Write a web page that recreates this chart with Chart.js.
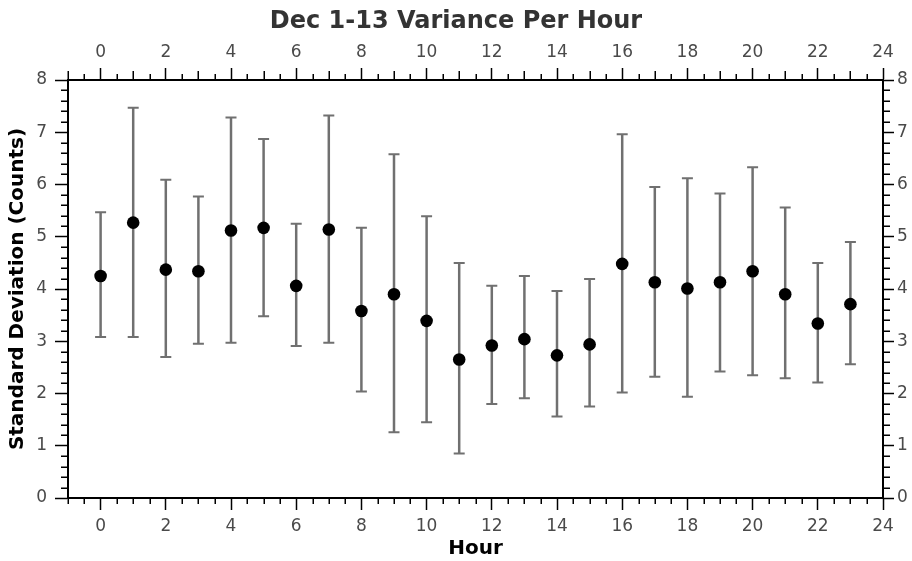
<!DOCTYPE html>
<html>
<head>
<meta charset="utf-8">
<script src="https://cdn.jsdelivr.net/npm/chart.js@4.4.0/dist/chart.umd.min.js"></script>
<style>
  html, body { margin: 0; padding: 0; background: #fff; overflow: hidden; }
</style>
</head>
<body>
<canvas id="varianceChart" width="912" height="561"></canvas>
<script>
// data
const hours = [0, 1, 2, 3, 4, 5, 6, 7, 8, 9, 10, 11, 12, 13, 14, 15, 16, 17, 18, 19, 20, 21, 22, 23];
const stdDev = [4.25, 5.27, 4.37, 4.34, 5.12, 5.17, 4.06, 5.14, 3.58, 3.90, 3.39, 2.65,
                2.92, 3.04, 2.73, 2.94, 4.48, 4.13, 4.01, 4.13, 4.34, 3.90, 3.34, 3.71];
const errHigh = [5.47, 7.47, 6.09, 5.77, 7.28, 6.87, 5.25, 7.32, 5.17, 6.58, 5.39, 4.50,
                 4.06, 4.25, 3.96, 4.19, 6.96, 5.95, 6.12, 5.83, 6.33, 5.56, 4.50, 4.90];
const errLow = [3.08, 3.08, 2.70, 2.95, 2.97, 3.48, 2.91, 2.97, 2.04, 1.26, 1.45, 0.85,
                1.80, 1.91, 1.56, 1.75, 2.02, 2.32, 1.94, 2.42, 2.35, 2.29, 2.21, 2.56];
const xTickLabels = [0, 2, 4, 6, 8, 10, 12, 14, 16, 18, 20, 22, 24];
const yTickLabels = [0, 1, 2, 3, 4, 5, 6, 7, 8];

Chart.defaults.font.family = "'DejaVu Sans', sans-serif";

// vertical error bars with caps, drawn through the chart scales
const errorBarPlugin = {
    id: 'errorBars',
    beforeDatasetsDraw: function(chart) {
        const ctx = chart.ctx;
        const x = chart.scales.x;
        const y = chart.scales.y;
        ctx.save();
        ctx.strokeStyle = '#707070';
        hours.forEach((h, i) => {
            const px = x.getPixelForValue(h);
            const top = y.getPixelForValue(errHigh[i]);
            const bot = y.getPixelForValue(errLow[i]);
            ctx.lineWidth = 2.5;
            ctx.beginPath();
            ctx.moveTo(px, top);
            ctx.lineTo(px, bot);
            ctx.stroke();
            ctx.lineWidth = 2;
            ctx.beginPath();
            ctx.moveTo(px - 5.5, top);
            ctx.lineTo(px + 5.5, top);
            ctx.moveTo(px - 5.5, bot);
            ctx.lineTo(px + 5.5, bot);
            ctx.stroke();
        });
        ctx.restore();
    }
};

// minor tick marks (Chart.js only draws the major ones)
const minorTickPlugin = {
    id: 'minorTicks',
    afterDraw: function(chart) {
        const ctx = chart.ctx;
        const area = chart.chartArea;
        const x = chart.scales.x;
        const y = chart.scales.y;
        ctx.save();
        ctx.strokeStyle = '#000';
        ctx.lineWidth = 1.5;
        ctx.beginPath();
        for (let v = -1; v <= 24; v += 0.5) {
            if (v % 2 === 0) continue;
            const px = Math.round(x.getPixelForValue(v)) + 0.25;
            const topLen = Number.isInteger(v) ? 9 : 6;
            ctx.moveTo(px, area.top);
            ctx.lineTo(px, area.top - topLen);
            ctx.moveTo(px, area.bottom);
            ctx.lineTo(px, area.bottom + 6);
        }
        for (let k = 0; k <= 40; k++) {
            if (k % 5 === 0) continue;
            const py = Math.round(y.getPixelForValue(k / 5)) + 0.25;
            ctx.moveTo(area.left, py);
            ctx.lineTo(area.left - 7, py);
            ctx.moveTo(area.right, py);
            ctx.lineTo(area.right + 7, py);
        }
        ctx.stroke();
        ctx.restore();
    }
};

const gridOpts = {
    drawOnChartArea: false,
    tickLength: 12,
    tickWidth: 1.5,
    tickColor: '#000'
};
const borderOpts = { display: true, color: '#000', width: 2 };
const tickFont = { size: 17 };

new Chart(document.getElementById('varianceChart'), {
    type: 'scatter',
    data: {
        datasets: [{
            label: 'Standard Deviation',
            data: hours.map((h, i) => ({ x: h, y: stdDev[i] })),
            backgroundColor: '#000',
            borderColor: '#000',
            borderWidth: 0,
            pointRadius: 6.3,
            pointHoverRadius: 6.3
        }]
    },
    options: {
        responsive: false,
        animation: false,
        layout: { padding: 0 },
        scales: {
            x: {
                type: 'linear',
                position: 'bottom',
                min: -1,
                max: 24,
                afterBuildTicks: function(scale) {
                    scale.ticks = xTickLabels.map(v => ({ value: v }));
                },
                afterFit: function(scale) { scale.height = 63; },
                ticks: { font: tickFont, color: '#4a4a4a', padding: 6, maxRotation: 0 },
                grid: gridOpts,
                border: borderOpts,
                title: {
                    display: true,
                    text: 'Hour',
                    color: '#000',
                    font: { size: 20, weight: 'bold' },
                    padding: { top: 0, bottom: 0 }
                }
            },
            x2: {
                type: 'linear',
                position: 'top',
                min: -1,
                max: 24,
                afterBuildTicks: function(scale) {
                    scale.ticks = xTickLabels.map(v => ({ value: v }));
                },
                afterFit: function(scale) { scale.height = 44.2; },
                ticks: { font: tickFont, color: '#4a4a4a', padding: 5, maxRotation: 0 },
                grid: gridOpts,
                border: borderOpts
            },
            y: {
                type: 'linear',
                position: 'left',
                min: 0,
                max: 8,
                afterBuildTicks: function(scale) {
                    scale.ticks = yTickLabels.map(v => ({ value: v }));
                },
                afterFit: function(scale) { scale.width = 68; },
                ticks: { font: tickFont, color: '#4a4a4a', padding: 8 },
                grid: Object.assign({}, gridOpts, { tickLength: 13 }),
                border: borderOpts,
                title: {
                    display: true,
                    text: 'Standard Deviation (Counts)',
                    color: '#000',
                    font: { size: 20, weight: 'bold' },
                    padding: { top: 6, bottom: 0 }
                }
            },
            y2: {
                type: 'linear',
                position: 'right',
                min: 0,
                max: 8,
                afterBuildTicks: function(scale) {
                    scale.ticks = yTickLabels.map(v => ({ value: v }));
                },
                afterFit: function(scale) { scale.width = 29; },
                ticks: { font: tickFont, color: '#4a4a4a', padding: 3 },
                grid: Object.assign({}, gridOpts, { tickLength: 11 }),
                border: borderOpts
            }
        },
        plugins: {
            legend: { display: false },
            tooltip: { enabled: false },
            title: {
                display: true,
                text: 'Dec 1-13 Variance Per Hour',
                color: '#333',
                font: { size: 24, weight: 'bold' },
                padding: { top: 7, bottom: 0 }
            }
        }
    },
    plugins: [errorBarPlugin, minorTickPlugin]
});
</script>
</body>
</html>
